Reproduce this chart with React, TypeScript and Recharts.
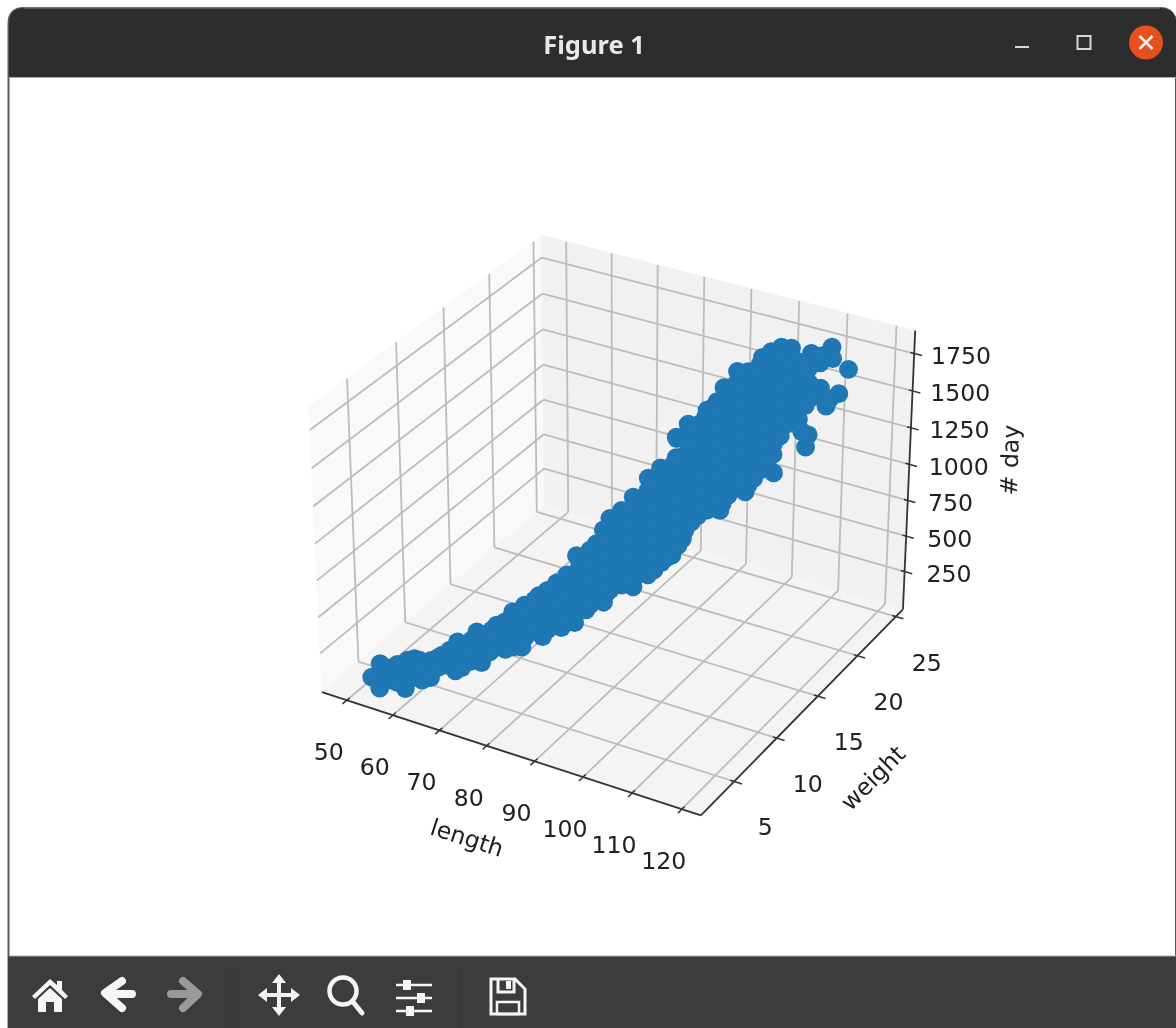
import React from "react";
import { ScatterChart, Scatter, XAxis, YAxis, ReferenceLine, ReferenceDot } from "recharts";

const W = 1176;
const H = 1028;

const lengthTicks = [50, 60, 70, 80, 90, 100, 110, 120];
const weightTicks = [5, 10, 15, 20, 25];
const dayTicks = [250, 500, 750, 1000, 1250, 1500, 1750];

const lengthRange = [44.55, 123.8];
const weightRange = [1.22, 25.94];
const dayRange = [-21, 1902];

const lengths = [
  50.7,53.9,52.0,57.8,59.0,57.0,62.8,61.0,63.2,66.7,66.0,68.9,71.2,71.2,75.1,75.6,77.6,80.2,80.9,80.5,83.4,85.3,88.7,90.9,92.7,95.0,95.0,96.7,
  84.8,81.9,88.7,93.0,96.1,99.4,101.2,104.6,108.5,95.1,99.3,
  98.7,98.0,99.7,100.0,100.6,102.0,106.6,108.7,110.5,109.6,115.2,117.2,115.5,112.9,113.2,104.7,
  54.1,54.0,55.5,59.2,59.4,61.3,64.7,65.0,67.9,67.9,69.8,70.1,73.0,73.0,73.0,73.7,75.9,76.6,78.0,78.0,78.3,79.8,79.8,79.8,81.6,81.6,81.6,83.4,83.4,83.4,83.4,
  85.3,85.3,85.3,85.3,85.3,
  87.0,87.0,87.0,87.0,87.0,87.0,
  88.9,88.9,88.9,88.9,88.9,88.9,
  90.9,90.9,90.9,90.9,90.9,90.9,90.9,
  92.7,92.7,92.7,92.7,92.7,92.7,92.7,
  94.5,94.5,94.5,94.5,94.5,94.5,94.5,
  96.4,96.4,96.4,96.4,96.4,96.4,96.4,
  98.2,98.2,98.2,98.2,98.2,98.2,98.2,
  99.8,99.8,99.8,99.8,99.8,99.8,99.8,
  101.5,101.5,101.5,101.5,101.5,101.5,101.5,101.5,
  100.5,103.3,103.3,103.3,103.3,103.3,103.3,103.3,
  99.5,102.2,105.0,105.0,105.0,105.0,105.0,105.0,105.0,
  100.2,103.0,106.7,106.7,106.7,106.7,106.7,106.7,
  103.3,105.5,108.3,108.3,108.3,108.3,108.3,
  102.7,105.3,107.7,110.1,110.1,110.1,
  105.1,107.7,111.8,111.8,111.8,
  112.2,108.6,111.4,113.2,114.6,116.0,108.4,
  86.2,86.2,86.2,86.2,86.2,
  88.0,88.0,88.0,88.0,88.0,88.0,
  90.0,90.0,90.0,90.0,90.0,90.0,
  91.8,91.8,91.8,91.8,91.8,91.8,91.8,
  93.6,93.6,93.6,93.6,93.6,93.6,93.6,
  95.4,95.4,95.4,95.4,95.4,95.4,95.4,
  97.2,97.2,97.2,97.2,97.2,97.2,97.2,
  99.0,99.0,99.0,99.0,99.0,99.0,99.0,
  100.6,100.6,100.6,100.6,100.6,100.6,100.6,100.6,
  102.3,102.3,102.3,102.3,102.3,102.3,102.3,102.3,
  100.4,104.1,104.1,104.1,104.1,104.1,104.1,104.1,
  100.6,105.8,105.8,105.8,105.8,105.8,105.8,105.8,
  107.5,107.5,107.5,107.5,107.5,107.5,
  101.8,105.5,109.2,109.2,109.2,109.2,
  105.4,108.2,111.0,111.0,
  109.8,112.6,112.6,114.0,
  53.0,53.0,54.5,55.4,56.0,56.0,56.9,57.7,57.7,59.8,60.3,60.3,62.1,62.1,63.8,63.8,63.8,65.3,65.3,66.7,66.7,
  68.2,68.2,68.2,70.1,70.1,70.1,71.5,71.5,71.5,72.5,72.5,74.4,74.4,74.4,76.3,76.3,76.3,77.5,77.5,
  79.2,79.2,79.2,80.7,80.7,80.7,82.4,82.4,82.4,82.4,82.4,84.3,84.3,84.3,84.3,84.3,84.3,
];

const weights = [
  3.5,2.8,3.8,3.6,4.8,5.0,6.5,6.0,6.6,7.4,7.3,8.0,8.6,8.6,9.5,9.6,10.2,10.8,11.0,10.9,11.6,12.1,12.9,13.4,13.8,14.3,14.3,14.7,
  12.0,11.2,12.9,13.8,14.5,15.5,16.0,17.0,18.1,14.3,15.4,
  17.7,19.7,21.7,22.6,23.5,23.9,23.6,24.9,23.9,22.9,23.0,20.6,20.1,19.3,19.4,22.4,
  4.3,4.0,4.7,5.6,5.6,6.1,6.9,7.0,7.7,7.7,8.2,8.3,9.0,9.0,9.0,9.2,9.7,9.9,10.3,10.3,10.3,10.7,10.7,10.7,11.2,11.2,11.2,11.6,11.6,11.6,11.6,
  12.1,12.1,12.1,12.1,12.1,
  12.5,12.5,12.5,12.5,12.5,12.5,
  12.9,12.9,12.9,12.9,12.9,12.9,
  13.4,13.4,13.4,13.4,13.4,13.4,13.4,
  13.8,13.8,13.8,13.8,13.8,13.8,13.8,
  14.2,14.2,14.2,14.2,14.2,14.2,14.2,
  14.6,14.6,14.6,14.6,14.6,14.6,14.6,
  15.1,15.1,15.1,15.1,15.1,15.1,15.1,
  15.6,15.6,15.6,15.6,15.6,15.6,15.6,
  16.1,16.1,16.1,16.1,16.1,16.1,16.1,16.1,
  18.1,16.6,16.6,16.6,16.6,16.6,16.6,16.6,
  20.1,18.6,17.1,17.1,17.1,17.1,17.1,17.1,17.1,
  21.1,19.6,17.6,17.6,17.6,17.6,17.6,17.6,
  20.8,19.6,18.1,18.1,18.1,18.1,18.1,
  22.6,21.2,19.9,18.6,18.6,18.6,
  22.6,21.2,19.0,19.0,19.0,
  19.2,22.0,20.5,19.5,19.9,20.2,23.9,
  12.3,12.3,12.3,12.3,12.3,
  12.7,12.7,12.7,12.7,12.7,12.7,
  13.2,13.2,13.2,13.2,13.2,13.2,
  13.6,13.6,13.6,13.6,13.6,13.6,13.6,
  14.0,14.0,14.0,14.0,14.0,14.0,14.0,
  14.4,14.4,14.4,14.4,14.4,14.4,14.4,
  14.9,14.9,14.9,14.9,14.9,14.9,14.9,
  15.4,15.4,15.4,15.4,15.4,15.4,15.4,
  15.8,15.8,15.8,15.8,15.8,15.8,15.8,15.8,
  16.3,16.3,16.3,16.3,16.3,16.3,16.3,16.3,
  18.9,16.9,16.9,16.9,16.9,16.9,16.9,16.9,
  20.1,17.3,17.3,17.3,17.3,17.3,17.3,17.3,
  17.8,17.8,17.8,17.8,17.8,17.8,
  22.4,20.4,18.4,18.4,18.4,18.4,
  21.8,20.3,18.8,18.8,
  20.8,19.3,19.3,19.6,
  4.1,4.1,4.4,3.9,4.8,4.8,4.7,5.2,5.2,5.3,5.9,5.9,6.3,6.3,6.7,6.7,6.7,7.1,7.1,7.4,7.4,
  7.8,7.8,7.8,8.3,8.3,8.3,8.7,8.7,8.7,8.9,8.9,9.4,9.4,9.4,9.8,9.8,9.8,10.1,10.1,
  10.5,10.5,10.5,11.0,11.0,11.0,11.4,11.4,11.4,11.4,11.4,11.9,11.9,11.9,11.9,11.9,11.9,
];

const days = [
  18,14,109,5,7,127,14,135,216,62,275,313,394,150,496,210,570,288,666,749,821,985,1118,1240,1306,1506,1370,1588,
  476,372,506,666,822,996,986,1090,1198,1498,1669,
  1700,1707,1719,1719,1711,1697,1716,1714,1700,1711,1711,1681,1608,1351,1431,1690,
  41,2,37,52,105,65,143,74,215,133,263,194,437,321,212,386,440,322,466,371,262,548,446,364,609,507,419,719,624,529,433,
  903,801,699,597,495,
  1033,931,829,727,625,523,
  1063,961,859,757,654,566,
  1161,1059,957,855,753,651,583,
  1225,1123,1021,919,817,715,667,
  1320,1221,1119,1017,915,813,711,
  1487,1385,1283,1181,1079,977,875,
  1580,1478,1376,1274,1172,1070,968,
  1673,1571,1469,1367,1265,1163,1061,
  1733,1631,1529,1427,1325,1223,1121,1032,
  1722,1723,1621,1519,1417,1315,1214,1125,
  1698,1713,1714,1612,1510,1408,1306,1204,1136,
  1703,1703,1739,1637,1535,1433,1331,1229,
  1700,1694,1695,1593,1491,1389,1321,
  1697,1697,1699,1686,1584,1516,
  1701,1696,1745,1643,1541,
  1454,1701,1702,1669,1729,1654,1702,
  954,852,750,648,546,
  1031,929,827,724,622,541,
  1108,1013,911,809,707,605,
  1213,1111,1009,907,805,703,615,
  1277,1175,1073,971,869,767,692,
  1367,1265,1164,1061,959,857,776,
  1550,1435,1333,1231,1129,1027,925,
  1622,1527,1425,1323,1221,1119,1017,
  1717,1621,1519,1417,1315,1213,1111,1043,
  1776,1680,1578,1476,1374,1272,1170,1082,
  1731,1773,1671,1569,1467,1365,1263,1175,
  1700,1760,1658,1556,1454,1352,1250,1178,
  1782,1686,1584,1482,1380,1278,
  1700,1703,1745,1643,1541,1439,
  1693,1700,1701,1599,
  1718,1727,1625,1699,
  72,18,95,7,117,49,7,111,44,5,116,48,165,97,160,92,37,223,155,218,137,
  282,213,146,330,262,139,373,305,237,403,145,466,316,248,527,377,255,421,333,
  625,503,299,593,443,362,778,676,573,471,403,907,805,702,600,498,410,
];

// Perspective camera: elev 30, azim -60, dist 10, box aspect 4:4:3
const BOX = [1.1429, 1.1429, 0.8571];
const SCALE = 380;
const X0 = 617.6;
const Y0 = 512;

function projectUnit(u: number, v: number, t: number) {
  const qx = BOX[0] * (u - 0.5);
  const qy = BOX[1] * (v - 0.5);
  const qz = BOX[2] * (t - 0.5);
  const a = 0.866 * qx + 0.5 * qy;
  const b = -0.25 * qx + 0.433 * qy + 0.866 * qz;
  const c = 0.433 * qx - 0.75 * qy + 0.5 * qz;
  const f = 1 / (1 - c / 10);
  return { x: X0 + SCALE * a * f, y: Y0 - SCALE * b * f };
}
const nL = (l: number) => (l - lengthRange[0]) / (lengthRange[1] - lengthRange[0]);
const nW = (w: number) => (w - weightRange[0]) / (weightRange[1] - weightRange[0]);
const nD = (d: number) => (d - dayRange[0]) / (dayRange[1] - dayRange[0]);

const rows = lengths.map((l, i) => {
  const p = projectUnit(nL(l), nW(weights[i]), nD(days[i]));
  return { length: l, weight: weights[i], day: days[i], sx: p.x, sy: p.y };
});

const GRID = "#bcbcbc";
const AXIS = "#333333";
const TEXT = "#202020";
const FONT = "'DejaVu Sans', sans-serif";
const LABEL_SIZE = 23.6;

function seg(a: number[], b: number[], stroke: string, width: number, key: string) {
  const p = projectUnit(a[0], a[1], a[2]);
  const q = projectUnit(b[0], b[1], b[2]);
  return (
    <ReferenceLine
      key={key}
      segment={[{ x: p.x, y: p.y }, { x: q.x, y: q.y }]}
      stroke={stroke}
      strokeWidth={width}
      ifOverflow="visible"
    />
  );
}

function label(text: string, x: number, y: number, rot: number, key: string, anchor = "middle") {
  return (
    <ReferenceDot
      key={key}
      x={x}
      y={y}
      r={0}
      ifOverflow="visible"
      shape={(p: any) => (
        <text
          x={p.cx}
          y={p.cy}
          textAnchor={anchor}
          dominantBaseline="central"
          fontFamily={FONT}
          fontSize={LABEL_SIZE}
          fill={TEXT}
          transform={rot ? `rotate(${rot} ${p.cx} ${p.cy})` : undefined}
        >
          {text}
        </text>
      )}
    />
  );
}

function poly(pts: number[][], fill: string) {
  const s = pts.map((c) => {
    const p = projectUnit(c[0], c[1], c[2]);
    return `${p.x},${p.y}`;
  });
  return <polygon points={s.join(" ")} fill={fill} stroke={fill} strokeWidth={1} />;
}

function Chrome() {
  const ic = "#f5f5f5";
  return (
    <svg width={W} height={H} style={{ position: "absolute", left: 0, top: 0 }}>
      <rect x={0} y={0} width={W} height={H} fill="#ffffff" />
      <path d={`M8.5 1028 V24 Q8.5 8 24 8 H1160 Q1173 8 1176 20 V1028 Z`} fill="#ffffff" stroke="#5a5a5a" strokeWidth={2} />
      <path d={`M9 77 V24 Q9 8 24 8 H1160 Q1173 8 1176 20 V77 Z`} fill="#2d2d2d" />
      <line x1={24} x2={1160} y1={8} y2={8} stroke="#888888" strokeWidth={1} />
      <line x1={10} x2={1176} y1={77.5} y2={77.5} stroke="#a8a8a8" strokeWidth={1} />
      <text x={594} y={44} textAnchor="middle" dominantBaseline="central" fontFamily="'Noto Sans', sans-serif" fontWeight={700} fontSize={25.5} fill="#e8e8e8">
        Figure 1
      </text>
      <line x1={1015} x2={1029} y1={47} y2={47} stroke="#d8d8d8" strokeWidth={2} />
      <rect x={1077.5} y={36} width={13} height={13} fill="none" stroke="#d8d8d8" strokeWidth={2} />
      <circle cx={1146} cy={42.5} r={17} fill="#e4501e" />
      <path d="M1139.5 36 L1152.5 49 M1152.5 36 L1139.5 49" stroke="#f6f0ec" strokeWidth={2.5} />

      <rect x={8} y={956} width={1168} height={72} fill="#3c3c3c" />
      <line x1={9} x2={1176} y1={956} y2={956} stroke="#a8a8a8" strokeWidth={1} />
      <line x1={232} x2={232} y1={965} y2={1028} stroke="#353535" strokeWidth={1} />
      <line x1={460} x2={460} y1={965} y2={1028} stroke="#353535" strokeWidth={1} />
      <g transform="translate(0 -3)">
        {/* home */}
        <path d="M50 982 L32 999 L35 1002 L50 988 L65 1002 L68 999 L62 993 V984 H57 V988 Z" fill={ic} />
        <path d="M38 1002 L50 991 L62 1002 V1015 H54 V1005 H46 V1015 H38 Z" fill={ic} />
        {/* back */}
        <path d="M122 984 L105 996 L122 1011 M108 997 H132" fill="none" stroke={ic} strokeWidth={8} strokeLinecap="round" strokeLinejoin="round" />
        {/* forward */}
        <path d="M183 984 L198 997 L183 1011 M195 997 H171" fill="none" stroke="#9a9a9a" strokeWidth={8} strokeLinecap="round" strokeLinejoin="round" />
        {/* move */}
        <path d="M279 982 V1014 M261 998 H297" stroke={ic} strokeWidth={4} />
        <path d="M279 977 L286 986 H272 Z M279 1019 L286 1010 H272 Z M258 998 L267 991 V1005 Z M300 998 L291 991 V1005 Z" fill={ic} />
        {/* zoom */}
        <circle cx={343} cy={994} r={13.5} fill="none" stroke={ic} strokeWidth={4.5} />
        <path d="M353 1005 L362 1016" stroke={ic} strokeWidth={5} strokeLinecap="round" />
        {/* sliders */}
        <path d="M396 988 H432 M396 1001 H432 M396 1014 H432" stroke={ic} strokeWidth={2.5} />
        <rect x={403} y={983} width={8} height={10} fill={ic} />
        <rect x={417} y={996} width={8} height={10} fill={ic} />
        <rect x={406} y={1009} width={8} height={10} fill={ic} />
        {/* save */}
        <path d="M491 982 H515 L525 992 V1017 H491 Z" fill="none" stroke={ic} strokeWidth={3} />
        <path d="M498 982 V995 H514 V982" fill="none" stroke={ic} strokeWidth={3} />
        <rect x={506} y={984} width={5} height={8} fill={ic} />
        <rect x={497} y={1005} width={22} height={12} fill="none" stroke={ic} strokeWidth={2.5} />
      </g>

      {/* panes */}
      {poly([[0, 0, 0], [0, 1, 0], [0, 1, 1], [0, 0, 1]], "#f9f9f9")}
      {poly([[0, 1, 0], [1, 1, 0], [1, 1, 1], [0, 1, 1]], "#f1f1f1")}
      {poly([[0, 0, 0], [1, 0, 0], [1, 1, 0], [0, 1, 0]], "#f4f4f4")}
    </svg>
  );
}

const lengthLabelOffset = [-18, 52];
const weightLabelOffset = [31, 46];

export default function App() {
  const grid: any[] = [];
  lengthTicks.forEach((t) => {
    const u = nL(t);
    grid.push(seg([u, 0, 0], [u, 1, 0], GRID, 1.8, `lf${t}`));
    grid.push(seg([u, 1, 0], [u, 1, 1], GRID, 1.8, `lw${t}`));
  });
  weightTicks.forEach((t) => {
    const v = nW(t);
    grid.push(seg([1, v, 0], [0, v, 0], GRID, 1.8, `wf${t}`));
    grid.push(seg([0, v, 0], [0, v, 1], GRID, 1.8, `ww${t}`));
  });
  dayTicks.forEach((t) => {
    const d = nD(t);
    grid.push(seg([0, 0, d], [0, 1, d], GRID, 1.8, `dl${t}`));
    grid.push(seg([0, 1, d], [1, 1, d], GRID, 1.8, `dr${t}`));
  });

  const axes: any[] = [
    seg([0, 0, 0], [1, 0, 0], AXIS, 1.8, "ax"),
    seg([1, 0, 0], [1, 1, 0], AXIS, 1.8, "ay"),
    seg([1, 1, 0], [1, 1, 1], AXIS, 1.8, "az"),
  ];
  lengthTicks.forEach((t) => {
    axes.push(seg([nL(t), -0.018, 0], [nL(t), 0.012, 0], AXIS, 1.5, `tl${t}`));
  });
  weightTicks.forEach((t) => {
    axes.push(seg([0.99, nW(t), 0], [1.02, nW(t), 0], AXIS, 1.5, `tw${t}`));
  });
  dayTicks.forEach((t) => {
    axes.push(seg([0.99, 1, nD(t)], [1.02, 1, nD(t)], AXIS, 1.5, `td${t}`));
  });

  const labels: any[] = [];
  lengthTicks.forEach((t) => {
    const p = projectUnit(nL(t), 0, 0);
    labels.push(label(String(t), p.x + lengthLabelOffset[0], p.y + lengthLabelOffset[1], 0, `ll${t}`));
  });
  weightTicks.forEach((t) => {
    const p = projectUnit(1, nW(t), 0);
    labels.push(label(String(t), p.x + weightLabelOffset[0], p.y + weightLabelOffset[1], 0, `wl${t}`));
  });
  dayTicks.forEach((t) => {
    const p = projectUnit(1, 1, nD(t));
    labels.push(label(String(t), 0.45 * p.x + 519.5, p.y + 2.5, 0, `dl2${t}`, "start"));
  });
  labels.push(label("length", 467, 838, 18, "tlen"));
  labels.push(label("weight", 873, 778, -45, "twgt"));
  labels.push(label("# day", 1010, 460, -88, "tday"));

  return (
    <div style={{ position: "absolute", left: 0, top: 0, width: W, height: H, overflow: "hidden", filter: "blur(0.6px)" }}>
      <Chrome />
      <div style={{ position: "absolute", left: 0, top: 0 }}>
        <ScatterChart width={W} height={H} margin={{ top: 0, right: 0, bottom: 0, left: 0 }}>
          <XAxis type="number" dataKey="sx" domain={[0, W]} hide allowDataOverflow />
          <YAxis type="number" dataKey="sy" domain={[0, H]} reversed hide allowDataOverflow />
          {grid}
          {axes}
          {labels}
          <Scatter
            data={rows}
            dataKey="sy"
            fill="#1f77b4"
            isAnimationActive={false}
            shape={(p: any) => <circle cx={p.cx} cy={p.cy} r={9.4} fill="#1f77b4" />}
          />
        </ScatterChart>
      </div>
    </div>
  );
}
